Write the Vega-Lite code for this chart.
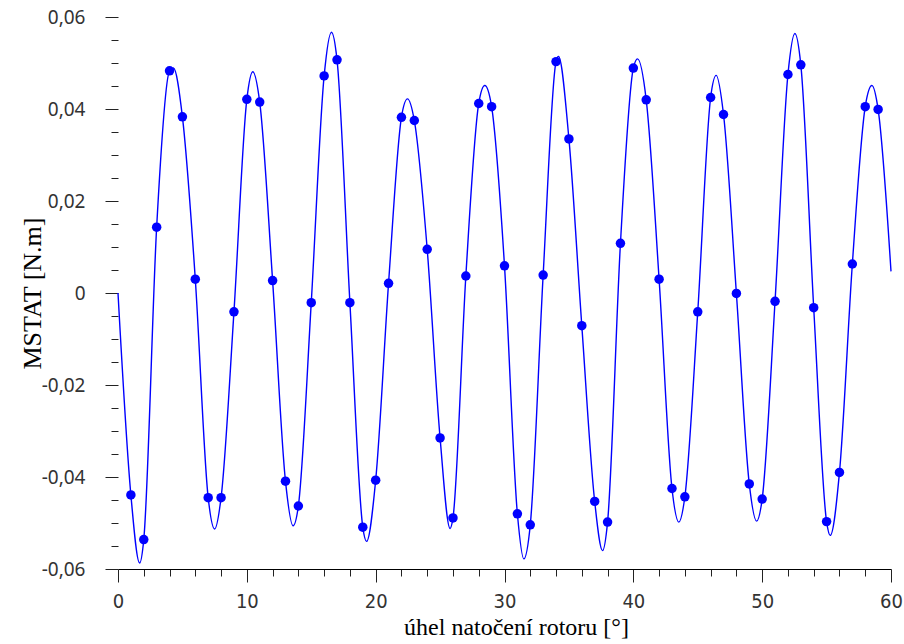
{
  "$schema": "https://vega.github.io/schema/vega-lite/v6.json",
  "width": 773,
  "height": 552,
  "autosize": "none",
  "padding": {"left": 118, "top": 17, "right": 13, "bottom": 75},
  "background": "white",
  "config": {"view": {"stroke": null}},
  "datasets": {
    "dots": [
      {"angle": 1, "M": -0.0439}, {"angle": 2, "M": -0.0536}, {"angle": 3, "M": 0.0143}, {"angle": 4, "M": 0.0483},
      {"angle": 5, "M": 0.0383}, {"angle": 6, "M": 0.0030}, {"angle": 7, "M": -0.0445}, {"angle": 8, "M": -0.0445},
      {"angle": 9, "M": -0.0041}, {"angle": 10, "M": 0.0421}, {"angle": 11, "M": 0.0415}, {"angle": 12, "M": 0.0027},
      {"angle": 13, "M": -0.0409}, {"angle": 14, "M": -0.0463}, {"angle": 15, "M": -0.0021}, {"angle": 16, "M": 0.0472},
      {"angle": 17, "M": 0.0507}, {"angle": 18, "M": -0.0021}, {"angle": 19, "M": -0.0509}, {"angle": 20, "M": -0.0407},
      {"angle": 21, "M": 0.0021}, {"angle": 22, "M": 0.0382}, {"angle": 23, "M": 0.0375}, {"angle": 24, "M": 0.0095},
      {"angle": 25, "M": -0.0315}, {"angle": 26, "M": -0.0489}, {"angle": 27, "M": 0.0037}, {"angle": 28, "M": 0.0412},
      {"angle": 29, "M": 0.0405}, {"angle": 30, "M": 0.0059}, {"angle": 31, "M": -0.0480}, {"angle": 32, "M": -0.0504},
      {"angle": 33, "M": 0.0039}, {"angle": 34, "M": 0.0503}, {"angle": 35, "M": 0.0335}, {"angle": 36, "M": -0.0071},
      {"angle": 37, "M": -0.0453}, {"angle": 38, "M": -0.0498}, {"angle": 39, "M": 0.0108}, {"angle": 40, "M": 0.0489},
      {"angle": 41, "M": 0.0420}, {"angle": 42, "M": 0.0030}, {"angle": 43, "M": -0.0425}, {"angle": 44, "M": -0.0443},
      {"angle": 45, "M": -0.0041}, {"angle": 46, "M": 0.0425}, {"angle": 47, "M": 0.0388}, {"angle": 48, "M": -0.0001},
      {"angle": 49, "M": -0.0415}, {"angle": 50, "M": -0.0448}, {"angle": 51, "M": -0.0018}, {"angle": 52, "M": 0.0475},
      {"angle": 53, "M": 0.0496}, {"angle": 54, "M": -0.0032}, {"angle": 55, "M": -0.0497}, {"angle": 56, "M": -0.0390},
      {"angle": 57, "M": 0.0063}, {"angle": 58, "M": 0.0405}, {"angle": 59, "M": 0.0399}
    ],
    "curve": [
      {"angle": 0, "M": 0}, {"angle": 1, "M": -0.0439}, {"angle": 1.68, "M": -0.0587}, {"angle": 2, "M": -0.0536},
      {"angle": 3, "M": 0.0143}, {"angle": 4, "M": 0.0483}, {"angle": 4.3, "M": 0.0489}, {"angle": 5, "M": 0.0383},
      {"angle": 6, "M": 0.0030}, {"angle": 7, "M": -0.0445}, {"angle": 7.5, "M": -0.0513}, {"angle": 8, "M": -0.0445},
      {"angle": 9, "M": -0.0041}, {"angle": 10, "M": 0.0421}, {"angle": 10.46, "M": 0.0481}, {"angle": 11, "M": 0.0415},
      {"angle": 12, "M": 0.0027}, {"angle": 13, "M": -0.0409}, {"angle": 13.59, "M": -0.0506}, {"angle": 14, "M": -0.0463},
      {"angle": 15, "M": -0.0021}, {"angle": 16, "M": 0.0472}, {"angle": 16.57, "M": 0.0567}, {"angle": 17, "M": 0.0507},
      {"angle": 18, "M": -0.0021}, {"angle": 19, "M": -0.0509}, {"angle": 19.29, "M": -0.0540}, {"angle": 20, "M": -0.0407},
      {"angle": 21, "M": 0.0021}, {"angle": 22, "M": 0.0382}, {"angle": 22.47, "M": 0.0422}, {"angle": 23, "M": 0.0375},
      {"angle": 24, "M": 0.0095}, {"angle": 25, "M": -0.0315}, {"angle": 25.78, "M": -0.0512}, {"angle": 26, "M": -0.0489},
      {"angle": 27, "M": 0.0037}, {"angle": 28, "M": 0.0412}, {"angle": 28.47, "M": 0.0451}, {"angle": 29, "M": 0.0405},
      {"angle": 30, "M": 0.0059}, {"angle": 31, "M": -0.0480}, {"angle": 31.5, "M": -0.0578}, {"angle": 32, "M": -0.0504},
      {"angle": 33, "M": 0.0039}, {"angle": 34, "M": 0.0503}, {"angle": 34.19, "M": 0.0514}, {"angle": 35, "M": 0.0335},
      {"angle": 36, "M": -0.0071}, {"angle": 37, "M": -0.0453}, {"angle": 37.61, "M": -0.0560}, {"angle": 38, "M": -0.0498},
      {"angle": 39, "M": 0.0108}, {"angle": 40, "M": 0.0489}, {"angle": 40.33, "M": 0.0509}, {"angle": 41, "M": 0.0420},
      {"angle": 42, "M": 0.0030}, {"angle": 43, "M": -0.0425}, {"angle": 43.53, "M": -0.0498}, {"angle": 44, "M": -0.0443},
      {"angle": 45, "M": -0.0041}, {"angle": 46, "M": 0.0425}, {"angle": 46.43, "M": 0.0473}, {"angle": 47, "M": 0.0388},
      {"angle": 48, "M": -0.0001}, {"angle": 49, "M": -0.0415}, {"angle": 49.57, "M": -0.0496}, {"angle": 50, "M": -0.0448},
      {"angle": 51, "M": -0.0018}, {"angle": 52, "M": 0.0475}, {"angle": 52.54, "M": 0.0564}, {"angle": 53, "M": 0.0496},
      {"angle": 54, "M": -0.0032}, {"angle": 55, "M": -0.0497}, {"angle": 55.28, "M": -0.0527}, {"angle": 56, "M": -0.0390},
      {"angle": 57, "M": 0.0063}, {"angle": 58, "M": 0.0405}, {"angle": 58.52, "M": 0.0451}, {"angle": 59, "M": 0.0399},
      {"angle": 60, "M": 0.0047}
    ]
  },
  "encoding": {
    "x": {
      "field": "angle",
      "type": "quantitative",
      "scale": {"domain": [0, 60], "nice": false, "zero": false},
      "axis": {
        "values": [0, 2, 4, 6, 8, 10, 12, 14, 16, 18, 20, 22, 24, 26, 28, 30, 32, 34, 36, 38, 40, 42, 44, 46, 48, 50, 52, 54, 56, 58, 60],
        "grid": false,
        "domain": true,
        "domainColor": "#000000",
        "domainWidth": 1,
        "tickColor": "#222222",
        "tickWidth": 1,
        "tickSize": {"condition": {"test": "datum.value % 10 == 0", "value": 13}, "value": 7},
        "labelExpr": "datum.value % 10 == 0 ? datum.label : ''",
        "labelOverlap": false,
        "labelFlush": false,
        "labelFont": "DejaVu Sans Condensed, Liberation Sans Narrow, Noto Sans",
        "labelFontSize": 20,
        "labelColor": "#333333",
        "labelPadding": 9,
        "title": "úhel natočení rotoru [°]",
        "titleFont": "Liberation Serif",
        "titleFontSize": 24,
        "titleFontWeight": "normal",
        "titleColor": "#000000",
        "titlePadding": 4,
        "titleX": 398
      }
    },
    "y": {
      "field": "M",
      "type": "quantitative",
      "scale": {"domain": [-0.06, 0.06], "nice": false, "zero": false},
      "axis": {
        "values": [-0.06, -0.055, -0.05, -0.045, -0.04, -0.035, -0.03, -0.025, -0.02, -0.015, -0.01, -0.005, 0, 0.005, 0.01, 0.015, 0.02, 0.025, 0.03, 0.035, 0.04, 0.045, 0.05, 0.055, 0.06],
        "grid": false,
        "domain": false,
        "tickColor": "#222222",
        "tickWidth": 1,
        "tickSize": {"condition": {"test": "abs(datum.value * 50 - round(datum.value * 50)) < 0.001", "value": 13}, "value": 7},
        "labelExpr": "abs(datum.value * 50 - round(datum.value * 50)) < 0.001 ? (abs(datum.value) < 0.0001 ? '0' : (datum.value < 0 ? '-' : '') + replace(format(abs(datum.value), '.2f'), '.', ',')) : ''",
        "labelOverlap": false,
        "labelFlush": false,
        "labelFont": "Noto Sans",
        "labelFontSize": 19,
        "labelColor": "#333333",
        "labelPadding": 20,
        "title": "MSTAT [N.m]",
        "titleFont": "Liberation Serif",
        "titleFontSize": 26,
        "titleFontWeight": "normal",
        "titleColor": "#000000",
        "titlePadding": -4
      }
    }
  },
  "layer": [
    {
      "data": {"name": "curve"},
      "mark": {"type": "line", "interpolate": "monotone", "color": "#0000ff", "strokeWidth": 1.4}
    },
    {
      "data": {"name": "dots"},
      "mark": {"type": "circle", "color": "#0000ff", "opacity": 1, "size": 90}
    }
  ]
}
